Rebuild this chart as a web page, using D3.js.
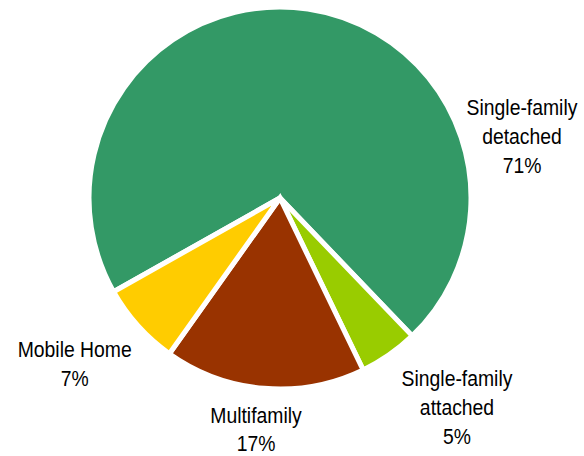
<!DOCTYPE html>
<html>
<head>
<meta charset="utf-8">
<script src="https://cdn.jsdelivr.net/npm/d3@7"></script>
<style>
  html, body { margin: 0; padding: 0; background: #fff; }
  svg { display: block; }
</style>
</head>
<body>
<svg id="chart" width="584" height="456"></svg>
<script>
// Housing type shares (percent)
const categories = ["Single-family detached", "Single-family attached", "Multifamily", "Mobile Home"];
const shares = [71, 5, 17, 7];
const labelLines = [
  ["Single-family", "detached"],
  ["Single-family", "attached"],
  ["Multifamily"],
  ["Mobile Home"]
];

// Styling and layout
const colors = ["#339966", "#99CC00", "#993300", "#FFCC00"];
const center = { x: 280, y: 198 };
const radius = 191;
const firstSliceAngle = -119.4 * Math.PI / 180;
// label anchors: centre x, first baseline
const labelAnchors = [
  { x: 522, y: 115 },
  { x: 457, y: 386 },
  { x: 256, y: 422.7 },
  { x: 74.7, y: 357.3 }
];
const lineGap = 28.8;

const svg = d3.select("#chart");

const pie = d3.pie()
  .sort(null)
  .value(d => d.value)
  .startAngle(firstSliceAngle)
  .endAngle(firstSliceAngle + 2 * Math.PI);

const data = categories.map((c, i) => ({ name: c, value: shares[i], color: colors[i], lines: labelLines[i], anchor: labelAnchors[i] }));
const arcs = pie(data);

const arc = d3.arc().innerRadius(0).outerRadius(radius);

svg.append("g")
  .attr("transform", `translate(${center.x},${center.y})`)
  .selectAll("path")
  .data(arcs)
  .join("path")
  .attr("d", arc)
  .attr("fill", d => d.data.color)
  .attr("stroke", "#ffffff")
  .attr("stroke-width", 5)
  .attr("stroke-linejoin", "miter");

const fmt = d3.format(".0f");

const labels = svg.append("g")
  .selectAll("g")
  .data(arcs)
  .join("g")
  .attr("transform", d => `translate(${d.data.anchor.x},${d.data.anchor.y}) scale(0.88,1)`);

labels.append("text")
  .attr("text-anchor", "middle")
  .attr("font-family", "'Liberation Sans', Arial, sans-serif")
  .attr("font-size", 22)
  .attr("fill", "#000")
  .selectAll("tspan")
  .data(d => d.data.lines.concat([fmt(d.data.value) + "%"]))
  .join("tspan")
  .attr("x", 0)
  .attr("y", (t, i) => i * lineGap)
  .text(t => t);
</script>
</body>
</html>
